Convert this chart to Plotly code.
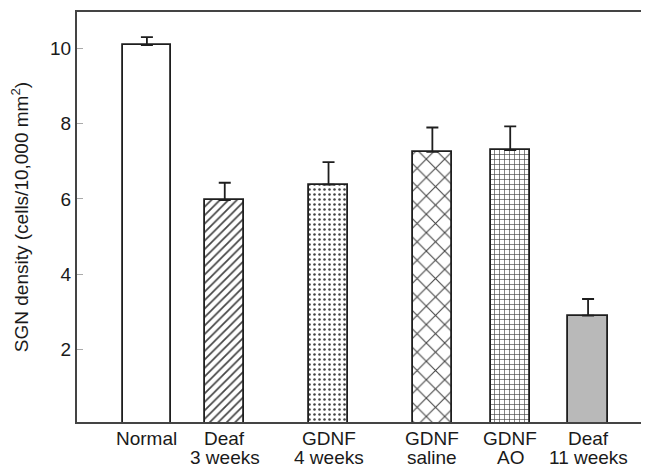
import plotly.graph_objects as go

# ---- data ----
categories = ["Normal", "Deaf 3 weeks", "GDNF 4 weeks", "GDNF saline", "GDNF AO", "Deaf 11 weeks"]
label_line1 = ["Normal", "Deaf", "GDNF", "GDNF", "GDNF", "Deaf"]
label_line2 = ["", "3 weeks", "4 weeks", "saline", "AO", "11 weeks"]
positions = [1, 2, 3.333, 4.667, 5.667, 6.667]
density = [10.09, 5.97, 6.38, 7.25, 7.30, 2.90]
sem = [0.21, 0.46, 0.60, 0.65, 0.63, 0.44]
y_ticks = [2, 4, 6, 8, 10]

# ---- styles ----
widths = [0.62, 0.505, 0.505, 0.505, 0.505, 0.505]
fill_colors = ["white", "white", "white", "white", "white", "#b9b9b9"]
pattern_shapes = ["", "/", ".", "x", "+", ""]
pattern_sizes = [8, 6, 5, 13, 5, 8]
pattern_solid = [0.3, 0.28, 0.2, 0.16, 0.24, 0.3]
pattern_fg = ["#222", "#333", "#b5b5b5", "#1a1a1a", "#333", "#222"]

font_family = "Liberation Sans, Arial, sans-serif"
text_color = "#1a1a1a"

# page body has an 8px default margin; size the figure to fill the rest
page_off = 8
fig_w, fig_h = 649 - page_off, 468 - page_off
plot_left_px, plot_right_px = 77, 647
plot_top_px, plot_bottom_px = 10, 422
plot_h = plot_bottom_px - plot_top_px

def paper_y(px):
    return (plot_bottom_px - px) / plot_h

fig = go.Figure()
fig.add_trace(go.Bar(
    x=positions,
    y=density,
    width=widths,
    marker=dict(
        color=fill_colors,
        line=dict(color="#1e1e1e", width=1.8),
        pattern=dict(
            shape=pattern_shapes,
            size=pattern_sizes,
            solidity=pattern_solid,
            fgcolor=pattern_fg,
            fgopacity=1,
            bgcolor=fill_colors,
            fillmode="overlay",
        ),
    ),
    error_y=dict(
        type="data",
        symmetric=False,
        array=sem,
        arrayminus=[0] * len(sem),
        color="#1e1e1e",
        thickness=1.8,
        width=6,
    ),
    showlegend=False,
    hoverinfo="skip",
))

for xv, l1, l2 in zip(positions, label_line1, label_line2):
    fig.add_annotation(x=xv, xref="x", y=paper_y(439), yref="paper", text=l1,
                       showarrow=False, yanchor="middle", xanchor="center",
                       font=dict(size=19, family=font_family, color=text_color))
    if l2:
        fig.add_annotation(x=xv, xref="x", y=paper_y(458), yref="paper", text=l2,
                           showarrow=False, yanchor="middle", xanchor="center",
                           font=dict(size=19, family=font_family, color=text_color))

fig.update_layout(
    width=fig_w, height=fig_h,
    margin=dict(l=plot_left_px - page_off, r=649 - plot_right_px,
                t=plot_top_px - page_off, b=468 - plot_bottom_px, pad=0),
    paper_bgcolor="white",
    plot_bgcolor="white",
    font=dict(family=font_family, color=text_color, size=18),
    bargap=0,
)
fig.update_xaxes(
    range=[0.102, 7.424],
    showgrid=False, zeroline=False,
    showline=True, linecolor="#444", linewidth=2, mirror=True,
    showticklabels=False, ticks="",
)
fig.update_yaxes(
    range=[0.07, 10.97],
    tickvals=y_ticks,
    ticktext=[str(v) for v in y_ticks],
    ticks="inside", ticklen=6, tickwidth=1, tickcolor="#aaaaaa",
    showgrid=False, zeroline=False,
    showline=True, linecolor="#444", linewidth=2, mirror="ticks",
    tickfont=dict(size=19, family=font_family, color=text_color),
    title=dict(text="SGN density (cells/10,000 mm<sup>2</sup>)",
               font=dict(size=19, family=font_family, color=text_color),
               standoff=16),
    automargin=False,
)

fig.write_html("out.html")
